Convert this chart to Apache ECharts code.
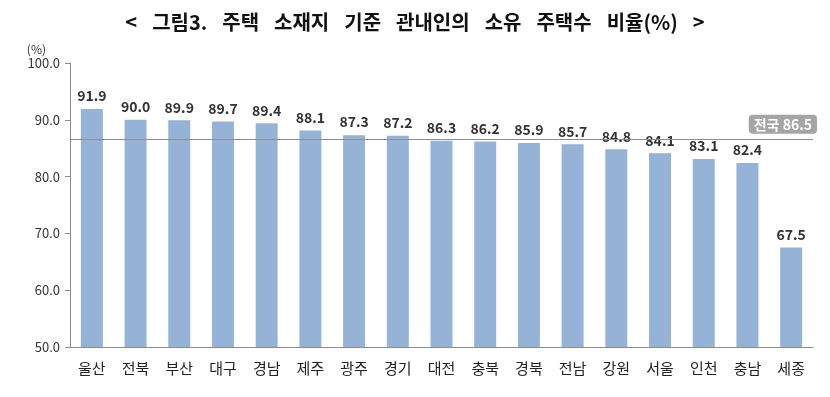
<!DOCTYPE html>
<html><head><meta charset="utf-8">
<script src="https://cdn.jsdelivr.net/npm/echarts@6/dist/echarts.min.js"></script>
<style>html,body{margin:0;padding:0;background:#fff}#c{width:830px;height:397px}</style>
</head><body><div id="c"></div>
<script>
const categories = ['울산','전북','부산','대구','경남','제주','광주','경기','대전','충북','경북','전남','강원','서울','인천','충남','세종'];
const values = [91.9,90.0,89.9,89.7,89.4,88.1,87.3,87.2,86.3,86.2,85.9,85.7,84.8,84.1,83.1,82.4,67.5];
const nationalValue = 86.5;
const nationalLabel = '전국';
const yTicks = [50,60,70,80,90,100];
const titleWords = ['<','그림3.','주택','소재지','기준','관내인의','소유','주택수','비율(%)','>'];

const font = '"Noto Sans CJK KR", "Noto Sans", sans-serif';
const chart = echarts.init(document.getElementById('c'));
chart.setOption({
  animation:false,
  title:{text:titleWords.join('{s| }'),left:'center',top:7,
    textStyle:{fontFamily:font,fontSize:20,fontWeight:'bold',color:'#111',
      rich:{s:{width:15,fontSize:20}}}},
  grid:{left:70,right:17,top:63,bottom:50},
  xAxis:{type:'category',data:categories,
    axisLine:{lineStyle:{color:'#8c8c8c',width:1}},axisTick:{show:false},
    axisLabel:{fontFamily:font,fontSize:15,color:'#222',margin:14}},
  yAxis:{type:'value',min:yTicks[0],max:yTicks[yTicks.length-1],interval:10,
    name:'(%)',nameLocation:'end',nameGap:8,
    nameTextStyle:{fontFamily:font,fontSize:12,color:'#333',align:'right',padding:[0,24,0,0]},
    axisLine:{show:true,lineStyle:{color:'#8c8c8c'}},
    axisTick:{show:true,inside:false,length:5,lineStyle:{color:'#8c8c8c'}},
    splitLine:{show:false},
    axisLabel:{fontFamily:font,fontSize:13,color:'#333',margin:10,formatter:v=>v.toFixed(1)}},
  series:[{type:'bar',data:values,barWidth:22,
    itemStyle:{color:'#95b3d7'},
    label:{show:true,position:'top',distance:6,fontFamily:font,fontSize:14,fontWeight:'bold',color:'#333',
      formatter:p=>p.value.toFixed(1)},
    markLine:{symbol:'none',silent:true,
      lineStyle:{color:'#8c8c8c',width:1,type:'solid'},
      label:{show:true,position:'insideEndTop',distance:[-4,6],
        formatter:nationalLabel+' '+nationalValue.toFixed(1),
        backgroundColor:'#a5a5a5',borderRadius:4,padding:[3,5,2,5],
        color:'#fff',fontFamily:font,fontSize:14,fontWeight:'bold'},
      data:[{yAxis:nationalValue}]}
  }]
});
</script></body></html>
